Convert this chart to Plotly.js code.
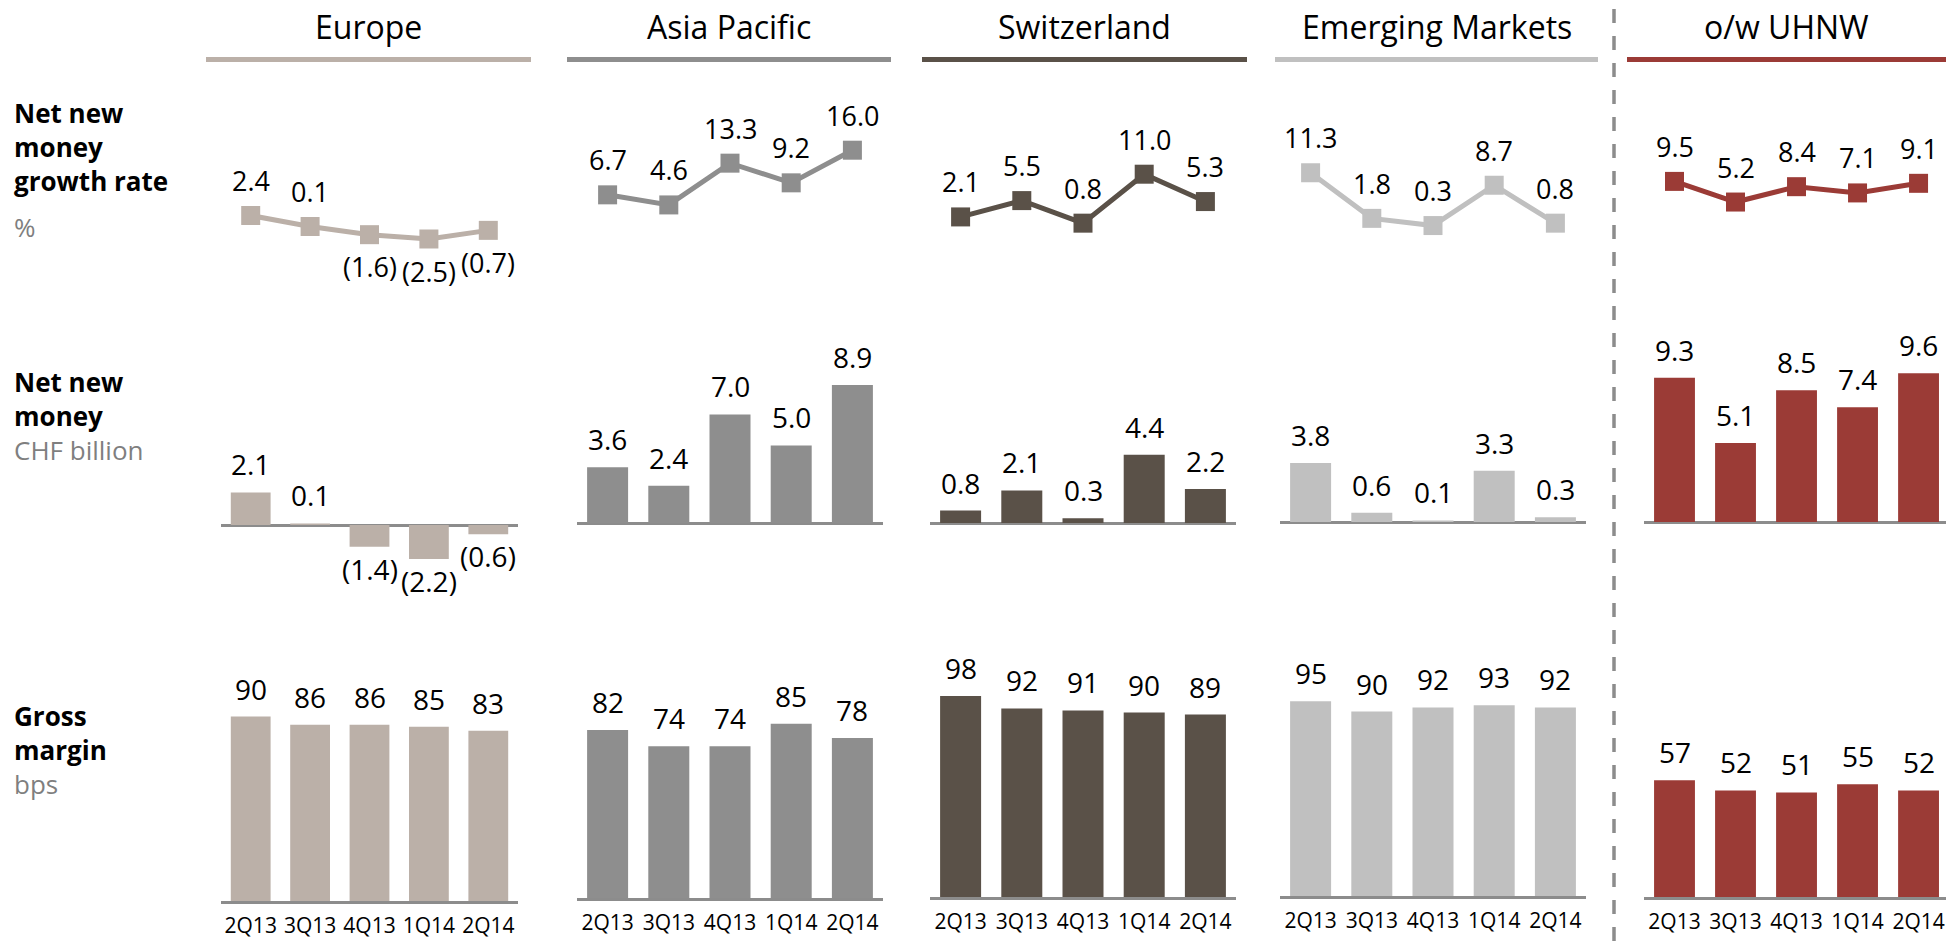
<!DOCTYPE html>
<html>
<head>
<meta charset="utf-8">
<script src="https://cdn.plot.ly/plotly-3.0.1.min.js"></script>
<style>
  html, body { margin: 0; padding: 0; background: #fff; }
  #chart { width: 1946px; height: 941px; }
</style>
</head>
<body>
<div id="chart"></div>
<script>
// ---------- DATA ----------
const quarters = ['2Q13', '3Q13', '4Q13', '1Q14', '2Q14'];
const regions = ['Europe', 'Asia Pacific', 'Switzerland', 'Emerging Markets', 'o/w UHNW'];

// Net new money growth rate, %
const growthEurope = [2.4, 0.1, -1.6, -2.5, -0.7];
const growthAsiaPacific = [6.7, 4.6, 13.3, 9.2, 16.0];
const growthSwitzerland = [2.1, 5.5, 0.8, 11.0, 5.3];
const growthEmerging = [11.3, 1.8, 0.3, 8.7, 0.8];
const growthUHNW = [9.5, 5.2, 8.4, 7.1, 9.1];

// Net new money, CHF billion
const nnmEurope = [2.1, 0.1, -1.4, -2.2, -0.6];
const nnmAsiaPacific = [3.6, 2.4, 7.0, 5.0, 8.9];
const nnmSwitzerland = [0.8, 2.1, 0.3, 4.4, 2.2];
const nnmEmerging = [3.8, 0.6, 0.1, 3.3, 0.3];
const nnmUHNW = [9.3, 5.1, 8.5, 7.4, 9.6];

// Gross margin, bps
const gmEurope = [90, 86, 86, 85, 83];
const gmAsiaPacific = [82, 74, 74, 85, 78];
const gmSwitzerland = [98, 92, 91, 90, 89];
const gmEmerging = [95, 90, 92, 93, 92];
const gmUHNW = [57, 52, 51, 55, 52];

// Row labels
const rowTitles = [['Net new', 'money', 'growth rate'], ['Net new', 'money'], ['Gross', 'margin']];
const rowUnits = ['%', 'CHF billion', 'bps'];

// ---------- STYLE / GEOMETRY ----------
const W = 1946, H = 941;
const FONT = 'Open Sans, Noto Sans, sans-serif';
const colors = ['#bbb0a8', '#8e8e8e', '#5a5148', '#c0c0c0', '#9b3b36'];
const AXIS_COLOR = '#8c8c8c';
const UNIT_COLOR = '#7f7f7f';
const colX = [[221, 518], [577, 883], [930, 1236], [1280, 1586], [1644, 1946]];
const colXMax = [4.5, 4.5, 4.5, 4.5, 4.45];
const headerLines = [[206, 531], [567, 891], [922, 1247], [1275, 1598], [1627, 1946]];

const rowData = [
  [growthEurope, growthAsiaPacific, growthSwitzerland, growthEmerging, growthUHNW],
  [nnmEurope, nnmAsiaPacific, nnmSwitzerland, nnmEmerging, nnmUHNW],
  [gmEurope, gmAsiaPacific, gmSwitzerland, gmEmerging, gmUHNW]
];
// zero position (px from top) per row/column, px per unit, value range
const rowZero = [
  [227, 227, 227, 227, 227],
  [525, 523, 523, 522, 522],
  [901, 898, 897, 896, 897]
];
const rowScale = [4.8, 15.5, 2.05];
const rowRange = [[-12, 22], [-4, 11], [0, 110]];

function fmtDec(v) {
  const s = Math.abs(v).toFixed(1);
  return v < 0 ? '(' + s + ')' : s;
}
function fmtInt(v) { return String(Math.round(v)); }

const data = [];
const layout = {
  width: W, height: H,
  margin: { l: 0, r: 0, t: 0, b: 0 },
  paper_bgcolor: '#ffffff', plot_bgcolor: 'rgba(0,0,0,0)',
  showlegend: false,
  bargap: 0.33,
  font: { family: FONT, color: '#000' },
  annotations: [],
  shapes: []
};

for (let r = 0; r < 3; r++) {
  for (let c = 0; c < 5; c++) {
    const k = r * 5 + c + 1;
    const xa = 'xaxis' + (k === 1 ? '' : k), ya = 'yaxis' + (k === 1 ? '' : k);
    const xr = 'x' + (k === 1 ? '' : k), yr = 'y' + (k === 1 ? '' : k);
    const z = rowZero[r][c], s = rowScale[r], rg = rowRange[r];
    const topPx = z - s * rg[1], botPx = z - s * rg[0];
    layout[xa] = {
      domain: [colX[c][0] / W, colX[c][1] / W],
      range: [-0.5, colXMax[c]],
      type: 'category',
      showgrid: false, zeroline: false,
      showline: r === 2, linecolor: AXIS_COLOR, linewidth: 3,
      showticklabels: r === 2, ticks: '',
      ticklabelstandoff: 4,
      tickfont: { family: FONT, size: 21, color: '#000' },
      anchor: yr, fixedrange: true
    };
    layout[ya] = {
      domain: [(H - botPx) / H, (H - topPx) / H],
      range: rg,
      showgrid: false, showticklabels: false, ticks: '',
      showline: false,
      zeroline: r === 1, zerolinecolor: AXIS_COLOR, zerolinewidth: 3,
      anchor: xr, fixedrange: true
    };
    const vals = rowData[r][c];
    if (r === 0) {
      data.push({
        type: 'scatter', mode: 'lines+markers',
        x: quarters, y: vals, xaxis: xr, yaxis: yr,
        line: { color: colors[c], width: 5 },
        marker: { symbol: 'square', size: 19, color: colors[c] },
        cliponaxis: false, hoverinfo: 'skip'
      });
    } else {
      data.push({
        type: 'bar',
        x: quarters, y: vals, xaxis: xr, yaxis: yr,
        marker: { color: colors[c], line: { width: 0 } },
        cliponaxis: false, hoverinfo: 'skip'
      });
    }
    vals.forEach((v, i) => {
      let shift;
      if (r === 0) shift = v < 0 ? -32 : 35;
      else shift = v < 0 ? -22 : 28;
      layout.annotations.push({
        xref: xr, yref: yr, x: i, y: v,
        text: r === 2 ? fmtInt(v) : fmtDec(v),
        showarrow: false, yshift: shift,
        xanchor: 'center', yanchor: 'middle',
        font: { family: FONT, size: r === 0 ? 27 : 28, color: '#000' }
      });
    });
  }
}

// column headers + coloured rules
regions.forEach((name, c) => {
  const hl = headerLines[c];
  layout.annotations.push({
    xref: 'paper', yref: 'paper',
    x: (hl[0] + hl[1]) / 2 / W, y: 1 - 27 / H,
    text: name, showarrow: false, xanchor: 'center', yanchor: 'middle',
    font: { family: FONT, size: 32, color: '#000' }
  });
  layout.shapes.push({
    type: 'line', xref: 'paper', yref: 'paper',
    x0: hl[0] / W, x1: hl[1] / W, y0: 1 - 59.5 / H, y1: 1 - 59.5 / H,
    line: { color: colors[c], width: 5 }
  });
});

// dashed separator
layout.shapes.push({
  type: 'line', xref: 'paper', yref: 'paper',
  x0: 1614 / W, x1: 1614 / W, y0: 0, y1: 1,
  line: { color: AXIS_COLOR, width: 3.5, dash: '14px,13px' }
});

// row labels: one block per row (bold title lines + grey unit)
const blocks = [
  { lines: rowTitles[0].map(t => '<b>' + t + '</b>'), center: 147 },
  { lines: rowTitles[1].map(t => '<b>' + t + '</b>').concat(['<span style="color:' + UNIT_COLOR + '">' + rowUnits[1] + '</span>']), center: 416 },
  { lines: rowTitles[2].map(t => '<b>' + t + '</b>').concat(['<span style="color:' + UNIT_COLOR + '">' + rowUnits[2] + '</span>']), center: 750 }
];
blocks.forEach(b => {
  layout.annotations.push({
    xref: 'paper', yref: 'paper', x: 12 / W, y: 1 - b.center / H,
    text: b.lines.join('<br>'), align: 'left',
    showarrow: false, xanchor: 'left', yanchor: 'middle',
    font: { family: FONT, size: 26, color: '#000' }
  });
});
layout.annotations.push({
  xref: 'paper', yref: 'paper', x: 12 / W, y: 1 - 227 / H,
  text: rowUnits[0], showarrow: false, xanchor: 'left', yanchor: 'middle',
  font: { family: FONT, size: 26, color: UNIT_COLOR }
});

Plotly.newPlot('chart', data, layout, { displayModeBar: false, staticPlot: true });
</script>
</body>
</html>
